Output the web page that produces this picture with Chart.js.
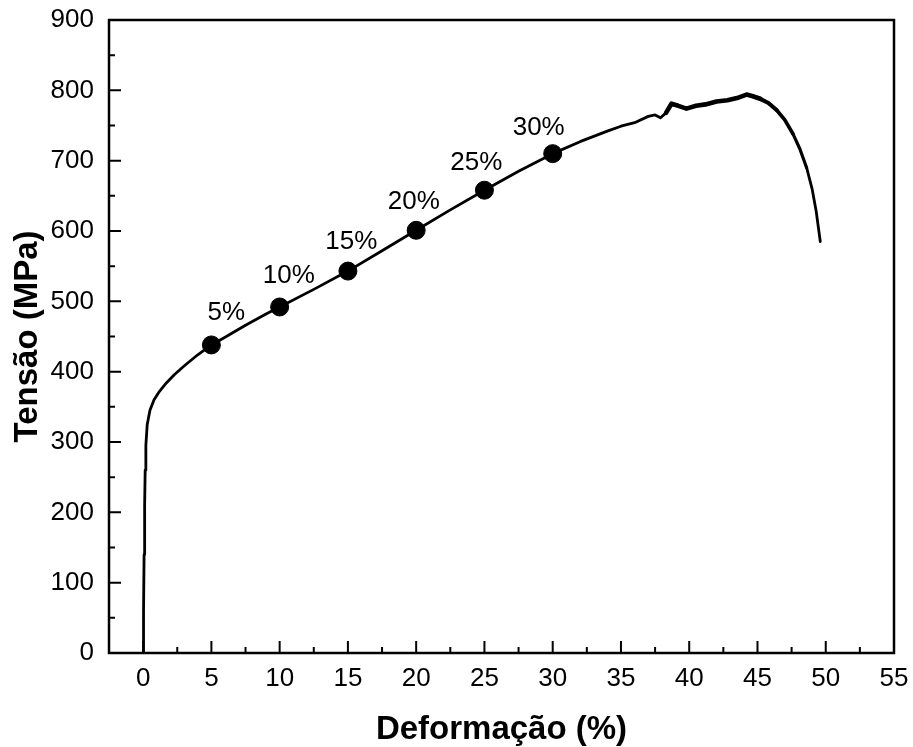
<!DOCTYPE html>
<html>
<head>
<meta charset="utf-8">
<script src="https://cdn.jsdelivr.net/npm/chart.js@4.4.1/dist/chart.umd.min.js"></script>
<style>
  html, body { margin: 0; padding: 0; background: #fff; }
  #wrap { width: 913px; height: 747px; }
</style>
</head>
<body>
<div id="wrap"><canvas id="grafico" width="913" height="747"></canvas></div>
<script>
// curva tensão x deformação
const deformacao = [0, 0.03, 0.07, 0.11, 0.15, 0.2, 0.3, 0.5, 0.8, 1.2, 1.7, 2.3, 3, 4, 5, 6, 7.5, 9, 10, 12.5, 15, 17.5, 20, 22.5, 25, 27.5, 30, 32, 34, 35, 36, 37, 37.5, 37.9, 38.3, 38.7, 39.2, 39.8, 40.5, 41.2, 42, 42.8, 43.5, 44.2, 44.6, 45.2, 45.8, 46.4, 47, 47.6, 48.1, 48.6, 49, 49.3, 49.6];
const tensao = [0, 60, 140, 210, 260, 295, 325, 345, 360, 372, 384, 396, 408, 424, 438, 449, 466, 482, 492, 517, 543, 572, 601, 630, 658, 685, 710, 727, 742, 749, 754, 763, 765, 761, 768, 781, 778, 774, 778, 780, 784, 786, 789, 794, 792, 788, 782, 772, 758, 738, 717, 690, 660, 628, 585];

// pontos marcados
const pontosX = [5, 10, 15, 20, 25, 30];
const pontosY = [438, 492, 543, 601, 658, 710];
const rotulos = ["5%", "10%", "15%", "20%", "25%", "30%"];

// eixos
const xTicks = [0, 5, 10, 15, 20, 25, 30, 35, 40, 45, 50, 55];
const yTicks = [0, 100, 200, 300, 400, 500, 600, 700, 800, 900];

const fonte = "'Liberation Sans', Arial, sans-serif";

// moldura e ticks para dentro
const molduraPlugin = {
  id: 'moldura',
  afterDraw(chart) {
    const { ctx, chartArea: a, scales: { x, y } } = chart;
    ctx.save();
    ctx.strokeStyle = '#000';
    ctx.lineWidth = 2;
    ctx.beginPath();
    xTicks.forEach((v, i) => {
      const px = x.getPixelForValue(v);
      ctx.moveTo(px, a.bottom); ctx.lineTo(px, a.bottom - 12);
      if (i < xTicks.length - 1) {
        const pm = x.getPixelForValue(v + 2.5);
        ctx.moveTo(pm, a.bottom); ctx.lineTo(pm, a.bottom - 6);
      }
    });
    yTicks.forEach((v, i) => {
      const py = y.getPixelForValue(v);
      ctx.moveTo(a.left, py); ctx.lineTo(a.left + 12, py);
      if (i < yTicks.length - 1) {
        const pm = y.getPixelForValue(v + 50);
        ctx.moveTo(a.left, pm); ctx.lineTo(a.left + 6, pm);
      }
    });
    ctx.stroke();
    ctx.lineWidth = 2.5;
    ctx.strokeRect(a.left, a.top, a.right - a.left, a.bottom - a.top);
    ctx.restore();
  }
};

// rótulos acima dos pontos
const rotulosPlugin = {
  id: 'rotulos',
  afterDatasetsDraw(chart) {
    const { ctx, scales: { x, y } } = chart;
    ctx.save();
    ctx.fillStyle = '#000';
    ctx.font = '26px ' + fonte;
    ctx.textAlign = 'center';
    ctx.textBaseline = 'middle';
    rotulos.forEach((t, i) => {
      const dx = 15 - 5.8 * i;
      const dy = -32 + 1.2 * i;
      ctx.fillText(t, x.getPixelForValue(pontosX[i]) + dx, y.getPixelForValue(pontosY[i]) + dy);
    });
    ctx.restore();
  }
};

// espessura da linha: mais grossa no trecho ruidoso perto da carga máxima
function larguraSegmento(c) {
  const d = c.p0.parsed.x;
  if (d >= 38.3 && d < 45) return 4.6;
  if (d >= 45 && d < 46.4) return 4.2;
  if (d >= 46.4 && d < 47.6) return 3.7;
  if (d >= 47.6 && d < 48.6) return 3.2;
  return 2.8;
}

const ctx = document.getElementById("grafico").getContext("2d");

new Chart(ctx, {
  type: 'scatter',
  data: {
    datasets: [{
      label: 'curva',
      data: deformacao.map((d, i) => ({ x: d, y: tensao[i] })),
      showLine: true,
      borderColor: '#000',
      borderWidth: 2.8,
      borderCapStyle: 'round',
      borderJoinStyle: 'round',
      pointRadius: 0,
      tension: 0,
      segment: { borderWidth: larguraSegmento }
    }, {
      label: 'pontos',
      data: pontosX.map((d, i) => ({ x: d, y: pontosY[i] })),
      pointRadius: 9,
      backgroundColor: '#000',
      borderColor: '#000'
    }]
  },
  options: {
    responsive: false,
    animation: false,
    layout: { padding: { top: 20, right: 19, left: 0, bottom: 0 } },
    plugins: { legend: { display: false }, tooltip: { enabled: false } },
    scales: {
      x: {
        type: 'linear',
        min: -2.5,
        max: 55,
        afterBuildTicks: s => { s.ticks = xTicks.map(v => ({ value: v })); },
        afterFit: s => { s.height = 94; s.paddingLeft = 0; s.paddingRight = 0; },
        grid: { display: false, drawTicks: false },
        border: { display: false },
        ticks: { color: '#000', padding: 10, font: { family: fonte, size: 26 } },
        title: {
          display: true,
          text: 'Deformação (%)',
          color: '#000',
          font: { family: fonte, size: 33, weight: 'bold' },
          padding: { top: 0, bottom: -3 }
        }
      },
      y: {
        min: 0,
        max: 900,
        afterBuildTicks: s => { s.ticks = yTicks.map(v => ({ value: v })); },
        afterFit: s => { s.width = 109; s.paddingTop = 0; s.paddingBottom = 0; },
        grid: { display: false, drawTicks: false },
        border: { display: false },
        ticks: { color: '#000', padding: 15, font: { family: fonte, size: 26 } },
        title: {
          display: true,
          text: 'Tensão (MPa)',
          color: '#000',
          font: { family: fonte, size: 33, weight: 'bold' },
          padding: { top: 8, bottom: 0 }
        }
      }
    }
  },
  plugins: [molduraPlugin, rotulosPlugin]
});
</script>
</body>
</html>
